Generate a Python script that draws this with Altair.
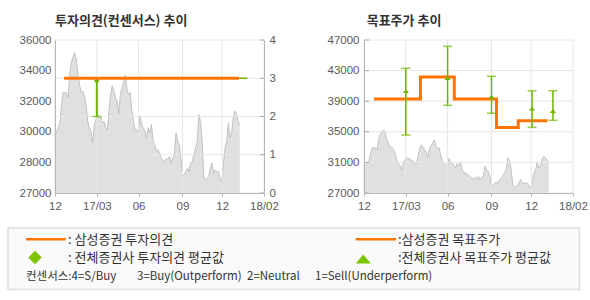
import json
import altair as alt
import pandas as pd
import numpy as np

# ---------------- data ----------------
x_tick_pos = [0, 1, 2, 3.05, 4, 5]
x_tick_labels = ["12", "17/03", "06", "09", "12", "18/02"]

left_axis_labels = ["27000", "28000", "30000", "32000", "34000", "36000"]
opinion_ticks = [0, 1, 2, 3, 4]
target_axis_ticks = [27000, 31000, 35000, 39000, 43000, 47000]

# share price, evenly sampled from the start of the axis to price_end_t
price_end_t = 4.42
prices = [
    30430, 30630, 30830, 31130, 32210, 32900, 32900, 32900, 32610, 33990,
    34680, 34975, 35270, 34880, 33990, 33400, 32900, 33000, 32700, 32210,
    31220, 30830, 30630, 29940, 30930, 31320, 31620, 31420, 31520, 31130,
    31220, 30830, 30730, 31820, 32800, 33300, 33000, 32610, 32410,
    31620, 32800, 33200, 33490, 33950, 33100, 32800, 32900, 31820, 31220,
    30730, 30730, 30530, 31520, 31030, 30830, 30630, 30240, 30830, 30530,
    31030, 30040, 29840, 29450, 29550, 29350, 29050, 28950, 28760, 29050,
    28950, 29150, 28760, 29050, 29250, 30530, 30040, 29840,
    29050, 27970, 28070, 28260, 28460, 28260, 28760, 28860, 29250, 29650,
    30040, 31620, 31220, 30040, 27970, 27770, 27870, 27970, 28460, 28760,
    28160, 28360, 28260, 28260, 27870, 27570, 28660, 29650, 30040, 31130,
    30240, 30530, 31420, 31820, 31620, 31220, 31030,
]

# Samsung Securities opinion and consensus opinion
opinion_t = [0.22, 4.40]
opinion_v = [3, 3]
opinion_avg_t = [0.22, 4.60]
opinion_avg_v = [3, 3]
op_bar_t = [1.0]
op_bar_lo = [2.0]
op_bar_hi = [3.0]
op_bar_mean = [2.93]

# Samsung Securities target price (step) and consensus target price
target_t = [0.24, 1.35, 2.16, 3.17, 3.69, 4.39]
target_v = [39300, 42150, 39300, 35550, 36450, 36450]
cons_t = [1.0, 2.0, 3.05, 4.02, 4.52]
cons_hi = [43300, 46170, 42250, 40370, 40370]
cons_mean = [40330, 42030, 39590, 38020, 37720]
cons_lo = [34580, 38460, 37420, 35580, 36500]

title_left = "투자의견(컨센서스) 추이"
title_right = "목표주가 추이"
legend_texts = [": 삼성증권 투자의견", ":삼성증권 목표주가",
                ": 전체증권사 투자의견 평균값", ":전체증권사 목표주가 평균값"]
consensus_note = ["컨센서스:4=S/Buy", "3=Buy(Outperform)", "2=Neutral", "1=Sell(Underperform)"]

# ---------------- styles ----------------
ORANGE = "#ff7300"
GREEN = "#6fb500"
GREEN_LEG = "#7cc400"
AREA = "#e0e0e0"
AREA_LINE = "#c2c2c2"
GRID = "#e6e6e6"
AXIS = "#b5b5b5"
TICK = "#a8a8a8"
LABEL = "#5a5a5a"
TEXT = "#333333"
FONT_AX = "Liberation Sans"
FONT_KR = "Noto Sans CJK KR"
W, H = 209, 153
DX = 309  # offset of the right panel's plot origin from the left panel's

price_dom_l = [27000, 36000]
price_dom_r = [27000, 47000]

one = pd.DataFrame({"k": [0]})
df_price = pd.DataFrame({"t": np.linspace(0, price_end_t, len(prices)), "price": prices})
df_xt = pd.DataFrame({"t": x_tick_pos})
df_op_ticks = pd.DataFrame({"v": opinion_ticks})
df_left_lab = pd.DataFrame({"i": list(range(len(left_axis_labels)))})
df_op = pd.DataFrame({"t": opinion_t, "v": opinion_v})
df_op_avg = pd.DataFrame({"t": opinion_avg_t, "v": opinion_avg_v})
df_op_bar = pd.DataFrame({"t": op_bar_t, "lo": op_bar_lo, "hi": op_bar_hi, "mean": op_bar_mean})
df_target = pd.DataFrame({"t": target_t, "v": target_v})
df_cons = pd.DataFrame({"t": cons_t, "lo": cons_lo, "hi": cons_hi, "mean": cons_mean})
df_target_ticks = pd.DataFrame({"v": target_axis_ticks})

# ---------------- scales / axes ----------------
xs = alt.Scale(domain=[0, 5], nice=False, zero=False)
x_label_expr = f"{json.dumps(x_tick_labels)}[indexof({json.dumps(x_tick_pos)}, datum.value)]"
x_axis = alt.Axis(values=x_tick_pos, labelExpr=x_label_expr, grid=False, domainColor=AXIS,
                  ticks=True, tickColor=AXIS, tickSize=3, labelPadding=4, labelFlush=False,
                  labelOverlap=False, labelFont=FONT_AX, labelFontSize=11.5, labelColor=LABEL,
                  title=None, zindex=1)
X = alt.X("t:Q", scale=xs, axis=x_axis)

price_scale_l = alt.Scale(domain=price_dom_l, nice=False, zero=False)
op_scale = alt.Scale(domain=[0, 4], nice=False, zero=False)
idx_scale = alt.Scale(domain=[0, len(left_axis_labels) - 1], nice=False, zero=False)
op_axis = alt.Axis(orient="right", values=opinion_ticks, format="d", grid=False, ticks=False,
                   labelPadding=5, domainColor=AXIS, labelFont=FONT_AX, labelFontSize=11.5,
                   labelColor=LABEL, title=None, zindex=1)
left_axis = alt.Axis(orient="left", values=list(range(len(left_axis_labels))),
                     labelExpr=f"{json.dumps(left_axis_labels)}[datum.value]", grid=False,
                     ticks=False, labelPadding=4, domainColor=AXIS, labelFont=FONT_AX,
                     labelFontSize=11.5, labelColor=LABEL, title=None, zindex=1)

price_scale_r = alt.Scale(domain=price_dom_r, nice=False, zero=False)
r_axis = alt.Axis(values=target_axis_ticks, format="d", grid=False, ticks=False, labelPadding=5,
                  domainColor=AXIS, labelFont=FONT_AX, labelFontSize=11.5, labelColor=LABEL,
                  title=None, zindex=1)

tri_shape = "M-1,0.6L1,0.6L0,-0.6Z"


def txt(s, x, y, size=13, weight="normal", color=TEXT):
    return alt.Chart(one).mark_text(text=s, align="left", baseline="middle", font=FONT_KR,
                                    fontSize=size, fontWeight=weight, color=color).encode(
        x=alt.value(x), y=alt.value(y))


# ---------------- left panel ----------------
bounds = alt.Chart(one).mark_rect(opacity=0).encode(
    x=alt.value(-55), x2=alt.value(535), y=alt.value(-40), y2=alt.value(260))

area_l = alt.Chart(df_price).mark_area(color=AREA, opacity=1,
                                       line={"color": AREA_LINE, "strokeWidth": 1}).encode(
    x=X, y=alt.Y("price:Q", scale=price_scale_l, axis=None), y2=alt.datum(price_dom_l[0]))
vgrid_l = alt.Chart(df_xt).mark_rule(color=GRID, strokeWidth=1).encode(x=X)
hgrid_l = alt.Chart(df_op_ticks).mark_rule(color=GRID, strokeWidth=1).encode(
    y=alt.Y("v:Q", scale=op_scale, axis=None))
tick_l = alt.Chart(df_op_ticks).mark_rule(color=TICK, strokeWidth=1).encode(
    x=alt.value(W - 4), x2=alt.value(W), y=alt.Y("v:Q", scale=op_scale, axis=None))
left_lab = alt.Chart(df_left_lab).mark_point(opacity=0).encode(
    y=alt.Y("i:Q", scale=idx_scale, axis=left_axis))
avg_line = alt.Chart(df_op_avg).mark_line(color=GREEN, strokeWidth=1.5).encode(
    x=X, y=alt.Y("v:Q", scale=op_scale, axis=None))
op_rule = alt.Chart(df_op_bar).mark_rule(color=GREEN, strokeWidth=2).encode(
    x=X, y=alt.Y("lo:Q", scale=op_scale, axis=None), y2="hi:Q")
op_cap_lo = alt.Chart(df_op_bar).mark_tick(orient="horizontal", size=9, thickness=1.5, color=GREEN).encode(
    x=X, y=alt.Y("lo:Q", scale=op_scale, axis=None))
op_cap_hi = alt.Chart(df_op_bar).mark_tick(orient="horizontal", size=9, thickness=1.5, color=GREEN).encode(
    x=X, y=alt.Y("hi:Q", scale=op_scale, axis=None))
op_mean = alt.Chart(df_op_bar).mark_point(shape="diamond", filled=True, size=30, color=GREEN, opacity=1).encode(
    x=X, y=alt.Y("mean:Q", scale=op_scale, axis=None))
op_line = alt.Chart(df_op).mark_line(color=ORANGE, strokeWidth=3).encode(
    x=X, y=alt.Y("v:Q", scale=op_scale, axis=op_axis))

left = alt.layer(
    bounds, area_l, vgrid_l, hgrid_l, tick_l, left_lab, avg_line, op_rule, op_cap_lo,
    op_cap_hi, op_mean, op_line,
    txt(title_left, 0, -19, size=13, weight="bold"),
).resolve_scale(y="independent").properties(width=W, height=H)

# ---------------- right panel ----------------
YR = alt.Y("price:Q", scale=price_scale_r, axis=r_axis)
area_r = alt.Chart(df_price).mark_area(color=AREA, opacity=1,
                                       line={"color": AREA_LINE, "strokeWidth": 1}).encode(
    x=X, y=YR, y2=alt.datum(price_dom_r[0]))
vgrid_r = alt.Chart(df_xt).mark_rule(color=GRID, strokeWidth=1).encode(x=X)
hgrid_r = alt.Chart(df_target_ticks).mark_rule(color=GRID, strokeWidth=1).encode(
    y=alt.Y("v:Q", scale=price_scale_r, axis=r_axis))
tick_r = alt.Chart(df_target_ticks).mark_rule(color=TICK, strokeWidth=1).encode(
    x=alt.value(0), x2=alt.value(5), y=alt.Y("v:Q", scale=price_scale_r, axis=r_axis))
step = alt.Chart(df_target).mark_line(color=ORANGE, strokeWidth=3, interpolate="step-after").encode(
    x=X, y=alt.Y("v:Q", scale=price_scale_r, axis=r_axis))
c_rule = alt.Chart(df_cons).mark_rule(color=GREEN, strokeWidth=1.5).encode(
    x=X, y=alt.Y("lo:Q", scale=price_scale_r, axis=r_axis), y2="hi:Q")
c_lo = alt.Chart(df_cons).mark_tick(orient="horizontal", size=9, thickness=1.5, color=GREEN).encode(
    x=X, y=alt.Y("lo:Q", scale=price_scale_r, axis=r_axis))
c_hi = alt.Chart(df_cons).mark_tick(orient="horizontal", size=9, thickness=1.5, color=GREEN).encode(
    x=X, y=alt.Y("hi:Q", scale=price_scale_r, axis=r_axis))
c_mean = alt.Chart(df_cons).mark_point(shape=tri_shape, filled=True, size=40, color=GREEN, opacity=1).encode(
    x=X, y=alt.Y("mean:Q", scale=price_scale_r, axis=r_axis))

# legend (drawn last, positioned relative to the right panel's plot origin)
legend_box = alt.Chart(one).mark_rect(fill="#fafafa", stroke="#dedede", strokeWidth=1.5).encode(
    x=alt.value(-47 - DX), x2=alt.value(524.5 - DX), y=alt.value(188), y2=alt.value(249.5))
leg_line1 = alt.Chart(one).mark_rule(color=ORANGE, strokeWidth=2.5).encode(
    x=alt.value(-29 - DX), x2=alt.value(10.7 - DX), y=alt.value(199.3))
leg_line2 = alt.Chart(one).mark_rule(color=ORANGE, strokeWidth=2.5).encode(
    x=alt.value(300.7 - DX), x2=alt.value(341 - DX), y=alt.value(199.3))
leg_diamond = alt.Chart(one).mark_point(shape="diamond", filled=True, size=180, color=GREEN_LEG,
                                         opacity=1).encode(x=alt.value(-20 - DX), y=alt.value(217.5))
leg_tri = alt.Chart(one).mark_point(shape=tri_shape, filled=True, size=225, color=GREEN_LEG,
                                     opacity=1).encode(x=alt.value(308.3 - DX), y=alt.value(219))

right = alt.layer(
    area_r, vgrid_r, hgrid_r, tick_r, step, c_rule, c_lo, c_hi, c_mean,
    txt(title_right, 2.7, -19, size=13, weight="bold"),
    legend_box, leg_line1, leg_line2, leg_diamond, leg_tri,
    txt(legend_texts[0], 13 - DX, 200), txt(legend_texts[1], 343 - DX, 200),
    txt(legend_texts[2], 13 - DX, 218), txt(legend_texts[3], 343 - DX, 218),
    txt(consensus_note[0], -29 - DX, 237, size=11.5), txt(consensus_note[1], 82 - DX, 237, size=11.5),
    txt(consensus_note[2], 192 - DX, 237, size=11.5), txt(consensus_note[3], 260 - DX, 237, size=11.5),
).properties(width=W, height=H)

chart = alt.hconcat(left, right, spacing=100, bounds="flush").properties(
    padding=0, background="white"
).configure_view(strokeWidth=0)

chart.save("out.html", embed_options={"renderer": "svg", "actions": False})
